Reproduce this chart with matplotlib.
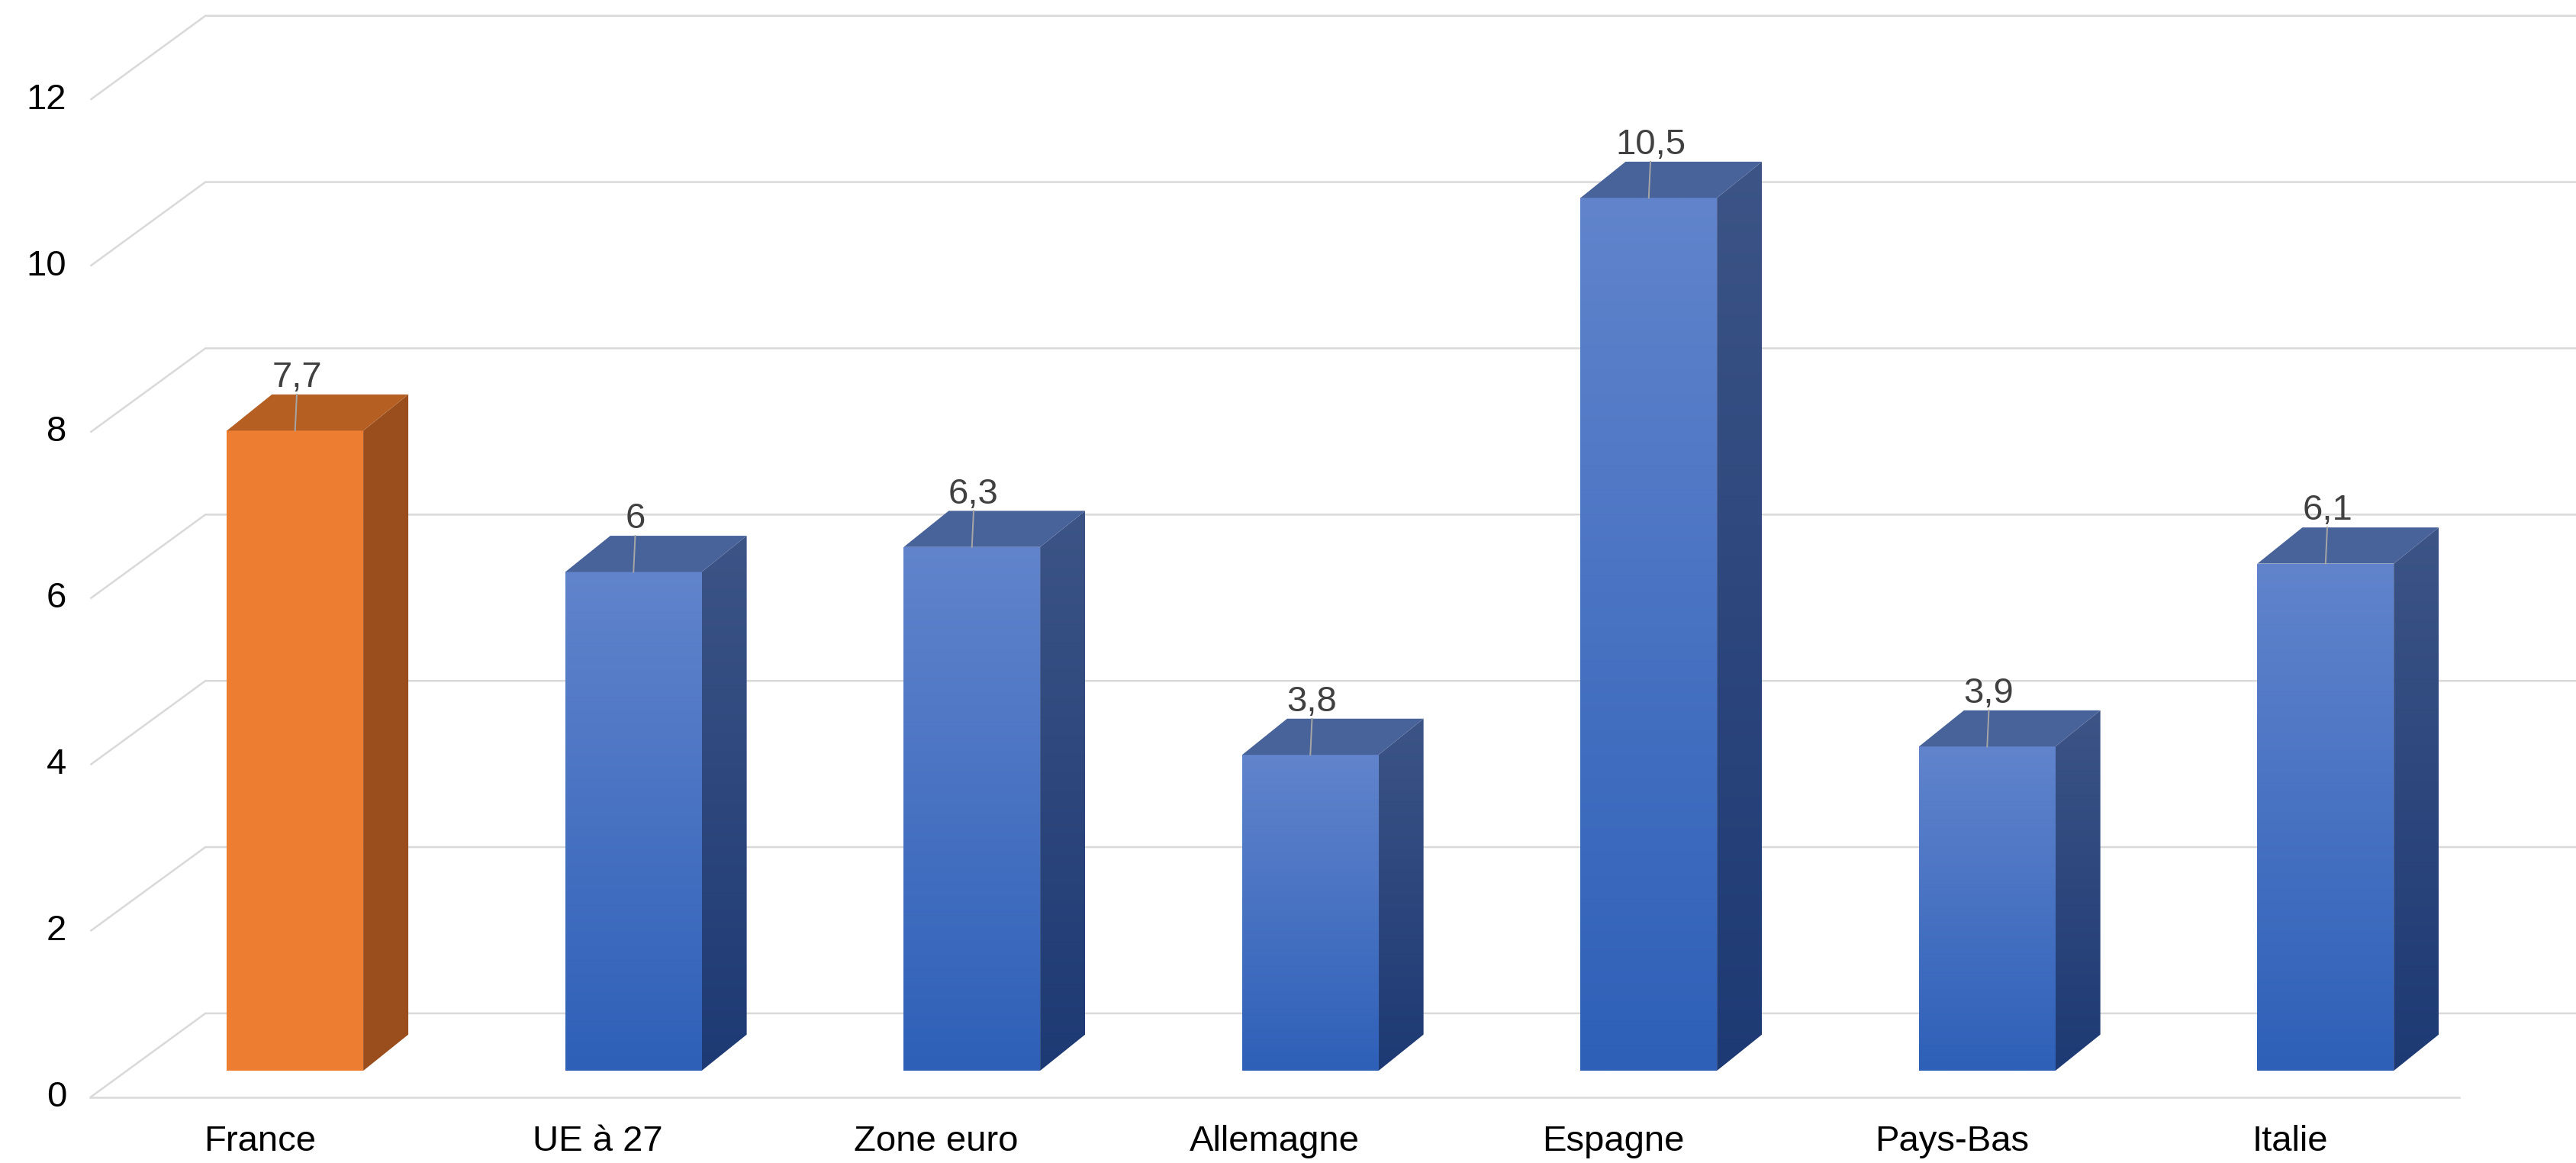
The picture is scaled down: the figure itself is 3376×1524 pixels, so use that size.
import numpy as np
import matplotlib.pyplot as plt
from matplotlib.patches import Polygon

plt.rcParams['font.family'] = ['Liberation Sans', 'DejaVu Sans']

categories = ["France", "UE à 27", "Zone euro", "Allemagne", "Espagne", "Pays-Bas", "Italie"]
values = [7.7, 6, 6.3, 3.8, 10.5, 3.9, 6.1]
labels = ["7,7", "6", "6,3", "3,8", "10,5", "3,9", "6,1"]
yticks = [0, 2, 4, 6, 8, 10, 12]

# pseudo 3d geometry (x in category units, y in value units)
floor_dx, floor_dy = 0.34, 1.01
bar_off_dx, bar_off_dy = 0.105, 0.32
bar_w = 0.403
side_dx, top_dy = 0.133, 0.435
grid_col = "#D9D9D9"

fig = plt.figure(figsize=(16.88, 7.62), dpi=200)
ax = fig.add_axes([0, 0, 1, 1])
x0, x1 = -0.767, 6.845
ax.set_xlim(x0, x1)
ax.set_ylim(-0.79, 13.2)
ax.axis("off")

n = len(categories)
for v in yticks:
    ax.plot([-0.5, -0.5 + floor_dx, x1], [v, v + floor_dy, v + floor_dy],
            color=grid_col, lw=0.9, zorder=1, solid_capstyle="butt")
    ax.text(-0.57, v, str(v), ha="right", va="center", fontsize=17, color="#000000")
ax.plot([-0.5, n - 0.5], [0, 0], color=grid_col, lw=0.9, zorder=1)

for i, c in enumerate(categories):
    ax.text(i, -0.53, c, ha="center", va="center", fontsize=17, color="#000000")


def grad_fill(poly_xy, top_col, bot_col, z):
    poly = Polygon(poly_xy, closed=True, facecolor="none", edgecolor="none")
    ax.add_patch(poly)
    xs = [p[0] for p in poly_xy]
    ys = [p[1] for p in poly_xy]
    t = np.linspace(0, 1, 256)[:, None]
    a = np.array(plt.matplotlib.colors.to_rgb(top_col))
    b = np.array(plt.matplotlib.colors.to_rgb(bot_col))
    img = (a[None, None, :] * (1 - t[:, :, None]) + b[None, None, :] * t[:, :, None])
    im = ax.imshow(img, extent=[min(xs), max(xs), min(ys), max(ys)], origin="upper",
                   aspect="auto", zorder=z, interpolation="bilinear")
    im.set_clip_path(poly)


for i, v in enumerate(values):
    left = i + bar_off_dx - bar_w / 2
    right = left + bar_w
    base = bar_off_dy
    top = base + v
    front = [(left, base), (right, base), (right, top), (left, top)]
    side = [(right, base), (right + side_dx, base + top_dy), (right + side_dx, top + top_dy), (right, top)]
    cap = [(left, top), (right, top), (right + side_dx, top + top_dy), (left + side_dx, top + top_dy)]
    if i == 0:
        ax.add_patch(Polygon(front, closed=True, facecolor="#ED7D31", edgecolor="none", zorder=3))
        ax.add_patch(Polygon(side, closed=True, facecolor="#9A4E1E", edgecolor="none", zorder=3))
        ax.add_patch(Polygon(cap, closed=True, facecolor="#B55F23", edgecolor="none", zorder=3))
    else:
        grad_fill(front, "#6184CC", "#2E60B8", 3)
        grad_fill(side, "#3C5486", "#1E3A74", 3)
        ax.add_patch(Polygon(cap, closed=True, facecolor="#48629A", edgecolor="none", zorder=3))
    cx = (left + right) / 2
    ax.plot([cx, cx + 0.005], [top, top + top_dy], color="#A6A6A6", lw=0.7, zorder=4)
    ax.text(cx + 0.005, top + top_dy + 0.2, labels[i], ha="center", va="center",
            fontsize=17, color="#404040", zorder=5)

fig.savefig("out.png", dpi=200)
